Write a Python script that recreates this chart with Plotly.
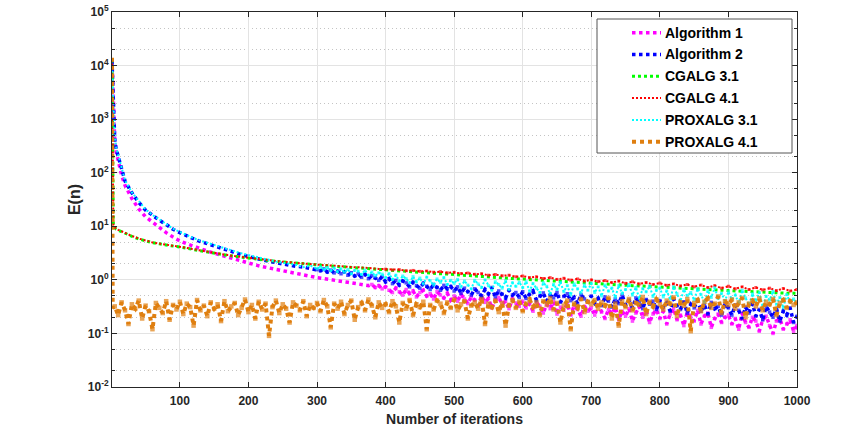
import plotly.graph_objects as go

# iteration numbers: dense at the start, every 10 up to 290, then every 5 for the noisy tails
x_iter = [1, 2, 3, 4, 5, 7, 10, 15, 20, 30, 40, 50, 60, 70, 80, 90] + list(range(100, 1001, 10))
x_head = [1, 2, 3, 4, 5, 7, 10, 15, 20, 30, 40, 50, 60, 70, 80, 90] + list(range(100, 300, 10))
x_dense = x_head + list(range(300, 1001, 5))
x_prox41 = [1, 2] + list(range(5, 1001, 5))

alg1 = [13000, 4500, 1500, 700, 380, 250, 160, 90, 58, 33, 21, 15, 12, 9.5, 7.6, 6.3,
        5.3, 4.7, 4.2, 3.8, 3.45, 3.15, 2.88, 2.63, 2.42, 2.22,
        2.05, 1.9, 1.77, 1.66, 1.56, 1.47, 1.38, 1.30, 1.23, 1.17,
        1.10, 1.08, 1.06, 1.04, 1.02, 0.99, 0.97, 0.95, 0.93, 0.90, 0.88, 0.86, 0.84, 0.82, 0.80, 0.78, 0.82, 0.72, 0.78, 0.68,
        0.74, 0.64, 0.58, 0.70, 0.60, 0.52, 0.66, 0.56, 0.62, 0.48, 0.58, 0.64, 0.50, 0.55, 0.44, 0.60, 0.52, 0.46, 0.56, 0.42,
        0.50, 0.40, 0.54, 0.44, 0.36, 0.48, 0.42, 0.33, 0.50, 0.38, 0.45, 0.30, 0.42, 0.47, 0.35, 0.40, 0.29, 0.44, 0.37, 0.32,
        0.40, 0.30, 0.36, 0.26, 0.38, 0.32, 0.24, 0.35, 0.29, 0.39, 0.23, 0.31, 0.27, 0.36, 0.22, 0.33, 0.28, 0.21, 0.32, 0.26,
        0.30, 0.22, 0.34, 0.25, 0.19, 0.28, 0.23, 0.31, 0.18, 0.26, 0.21, 0.29, 0.17, 0.24, 0.32, 0.20, 0.27, 0.16, 0.23, 0.28,
        0.19, 0.26, 0.15, 0.23, 0.29, 0.18, 0.22, 0.14, 0.25, 0.20, 0.17, 0.27, 0.15, 0.21, 0.24, 0.13, 0.19, 0.23, 0.16, 0.20,
        0.22, 0.15, 0.19, 0.12, 0.24, 0.16, 0.13, 0.20, 0.17, 0.11, 0.18, 0.21, 0.14, 0.10, 0.17, 0.19, 0.12, 0.15, 0.18, 0.11,
        0.14]

alg2 = [12000, 4000, 1500, 700, 420, 280, 200, 110, 70, 42, 28, 20, 16, 13, 10.8, 8.8,
        7.6, 6.6, 5.85, 5.2, 4.7, 4.25, 3.85, 3.5, 3.2, 2.95,
        2.72, 2.52, 2.36, 2.22, 2.1, 1.98, 1.9, 1.78, 1.74, 1.62,
        1.55, 1.48, 1.60, 1.40, 1.52, 1.35, 1.45, 1.30, 1.42, 1.22, 1.36, 1.18, 1.30, 1.12, 1.26, 1.05, 1.20, 1.08, 0.98, 1.15,
        0.92, 1.05, 0.85, 0.98, 0.80, 0.95, 0.88, 0.74, 0.90, 0.78, 0.70, 0.86, 0.76, 0.66, 0.82, 0.72, 0.64, 0.79, 0.68, 0.75,
        0.62, 0.74, 0.56, 0.70, 0.60, 0.52, 0.68, 0.58, 0.50, 0.66, 0.55, 0.72, 0.48, 0.62, 0.54, 0.46, 0.64, 0.52, 0.58, 0.47,
        0.60, 0.45, 0.54, 0.62, 0.42, 0.50, 0.57, 0.40, 0.52, 0.46, 0.58, 0.38, 0.49, 0.55, 0.41, 0.47, 0.36, 0.53, 0.44, 0.39,
        0.50, 0.37, 0.45, 0.33, 0.48, 0.40, 0.31, 0.44, 0.36, 0.52, 0.34, 0.42, 0.30, 0.46, 0.38, 0.29, 0.43, 0.35, 0.40, 0.28,
        0.41, 0.31, 0.37, 0.26, 0.44, 0.33, 0.28, 0.39, 0.24, 0.35, 0.30, 0.42, 0.26, 0.34, 0.23, 0.38, 0.29, 0.32, 0.22, 0.36,
        0.30, 0.22, 0.34, 0.27, 0.19, 0.31, 0.24, 0.36, 0.21, 0.28, 0.18, 0.32, 0.25, 0.20, 0.29, 0.17, 0.26, 0.22, 0.30, 0.16,
        0.21]

cg31 = [13000, 11, 10.2, 9.7, 9.3, 8.9, 8.5, 7.9, 7.4, 6.5, 5.8, 5.3, 4.95, 4.7, 4.5, 4.32,
        4.15, 3.9, 3.68, 3.48, 3.3, 3.14, 3.0, 2.87, 2.75, 2.64,
        2.54, 2.45, 2.37, 2.29, 2.22, 2.16, 2.10, 2.04, 1.99, 1.94,
        1.90, 1.86, 1.82, 1.78, 1.74, 1.71, 1.68, 1.65, 1.62, 1.59,
        1.55, 1.52, 1.48, 1.45, 1.42, 1.39, 1.36, 1.33, 1.30, 1.28,
        1.25, 1.23, 1.20, 1.18, 1.15, 1.13, 1.11, 1.09, 1.07, 1.05,
        1.03, 1.01, 0.99, 0.97, 0.96, 0.94, 0.92, 0.91, 0.89, 0.88,
        0.86, 0.85, 0.83, 0.82, 0.81, 0.79, 0.78, 0.77, 0.76, 0.74,
        0.73, 0.72, 0.71, 0.70, 0.69, 0.68, 0.67, 0.66, 0.65, 0.64,
        0.63, 0.62, 0.62, 0.61, 0.60, 0.59, 0.58, 0.58, 0.57, 0.56,
        0.56]

cg41 = [13000, 11.5, 10.5, 9.9, 9.5, 9.0, 8.6, 8.0, 7.5, 6.6, 5.9, 5.4, 5.0, 4.75, 4.55, 4.38,
        4.2, 3.95, 3.72, 3.52, 3.34, 3.18, 3.03, 2.9, 2.78, 2.67,
        2.57, 2.48, 2.40, 2.32, 2.25, 2.18, 2.12, 2.06, 2.01, 1.96,
        1.92, 1.88, 1.86, 1.80, 1.78, 1.73, 1.72, 1.66, 1.65, 1.60,
        1.58, 1.53, 1.55, 1.48, 1.50, 1.44, 1.46, 1.39, 1.42, 1.35,
        1.38, 1.31, 1.34, 1.27, 1.30, 1.22, 1.26, 1.19, 1.22, 1.14,
        1.18, 1.10, 1.14, 1.06, 1.10, 1.02, 1.07, 0.99, 1.04, 0.95,
        1.00, 0.93, 0.97, 0.89, 0.95, 0.86, 0.92, 0.84, 0.89, 0.82,
        0.87, 0.79, 0.84, 0.77, 0.82, 0.74, 0.80, 0.72, 0.78, 0.70,
        0.76, 0.68, 0.74, 0.66, 0.72, 0.65, 0.70, 0.63, 0.69, 0.62,
        0.66]

prox31 = [9500, 5000, 2000, 900, 480, 300, 210, 115, 72, 43, 29, 20.5, 16.3, 13.2, 11, 9.0,
          7.8, 6.8, 6.0, 5.4, 4.9, 4.45, 4.05, 3.7, 3.4, 3.12,
          2.9, 2.68, 2.5, 2.35, 2.2, 2.08, 1.98, 1.9, 1.72, 1.85,
          1.62, 1.75, 1.55, 1.70, 1.48, 1.66, 1.42, 1.60, 1.38, 1.56, 1.30, 1.50, 1.45, 1.26, 1.52, 1.22, 1.40, 1.18, 1.35, 1.28,
          1.10, 1.30, 1.02, 1.22, 0.95, 1.18, 1.05, 0.88, 1.15, 0.92, 1.08, 0.84, 1.12, 0.96, 0.80, 1.04, 0.90, 1.10, 0.82, 0.98,
          0.86, 1.02, 0.74, 0.95, 0.80, 0.68, 0.98, 0.84, 0.72, 1.00, 0.78, 0.64, 0.92, 0.82, 0.70, 0.96, 0.66, 0.88, 0.76, 0.90,
          0.72, 0.92, 0.62, 0.85, 0.70, 0.58, 0.88, 0.76, 0.55, 0.82, 0.66, 0.90, 0.60, 0.78, 0.52, 0.84, 0.68, 0.57, 0.80, 0.64,
          0.86, 0.58, 0.74, 0.50, 0.80, 0.62, 0.70, 0.47, 0.78, 0.56, 0.66, 0.82, 0.52, 0.72, 0.45, 0.68, 0.60, 0.76, 0.49, 0.64,
          0.70, 0.48, 0.62, 0.44, 0.74, 0.55, 0.40, 0.66, 0.50, 0.58, 0.42, 0.68, 0.53, 0.38, 0.63, 0.47, 0.71, 0.45, 0.56, 0.41,
          0.60, 0.43, 0.52, 0.37, 0.64, 0.46, 0.34, 0.55, 0.40, 0.58, 0.32, 0.49, 0.42, 0.61, 0.35, 0.47, 0.30, 0.53, 0.38, 0.44,
          0.36]

prox41 = [14000, 0.30,
          0.32, 0.22, 0.38, 0.27, 0.15, 0.35, 0.29, 0.41, 0.19, 0.33, 0.26, 0.12, 0.37, 0.30, 0.24, 0.40, 0.18, 0.34, 0.28, 0.39,
          0.23, 0.36, 0.31, 0.14, 0.42, 0.27, 0.33, 0.21, 0.38, 0.29, 0.35, 0.17, 0.40, 0.26, 0.32, 0.37, 0.22, 0.30, 0.43, 0.25,
          0.34, 0.19, 0.39, 0.28, 0.36, 0.09, 0.31, 0.41, 0.24, 0.35, 0.29, 0.16, 0.38, 0.33, 0.27, 0.40, 0.21, 0.34, 0.30, 0.37,
          0.26, 0.42, 0.32, 0.13, 0.36, 0.29, 0.39, 0.23, 0.34, 0.41, 0.18, 0.31, 0.37, 0.27, 0.43, 0.33, 0.20, 0.38, 0.30, 0.35,
          0.25, 0.40, 0.32, 0.16, 0.37, 0.29, 0.42, 0.22, 0.35, 0.31, 0.39, 0.12, 0.34, 0.28, 0.41, 0.36, 0.24, 0.38, 0.30, 0.43,
          0.27, 0.35, 0.40, 0.19, 0.33, 0.38, 0.29, 0.44, 0.15, 0.36, 0.31, 0.41, 0.25, 0.37, 0.14, 0.34, 0.42, 0.30, 0.39, 0.26,
          0.36, 0.43, 0.31, 0.38, 0.22, 0.40, 0.34, 0.45, 0.28, 0.37, 0.16, 0.33, 0.41, 0.12, 0.36, 0.30, 0.44, 0.25, 0.39, 0.35,
          0.42, 0.29, 0.38, 0.33, 0.46, 0.19, 0.36, 0.14, 0.40, 0.31, 0.44, 0.27, 0.37, 0.34, 0.48, 0.23, 0.39, 0.32, 0.43, 0.35,
          0.28, 0.41, 0.36, 0.47, 0.21, 0.38, 0.33, 0.44, 0.11, 0.37, 0.42, 0.26, 0.39, 0.45, 0.30, 0.36, 0.49, 0.24, 0.40, 0.34,
          0.43, 0.29, 0.38, 0.46, 0.20, 0.36, 0.41, 0.32, 0.45, 0.27, 0.39, 0.35, 0.44, 0.22, 0.37, 0.42, 0.30, 0.40, 0.34, 0.38]

y_exps = [-2, -1, 0, 1, 2, 3, 4, 5]
y_ticktext = ["10<sup>%d</sup>" % e for e in y_exps]

# name, x, y, colour, line width, dash, iteration where the noisy part starts, square size there
series = [
    ("Algorithm 1", x_dense, alg1, "#FF00FF", 3.5, "dot", 380, 3.5),
    ("Algorithm 2", x_dense, alg2, "#0000FF", 3.5, "dot", 300, 3.5),
    ("CGALG 3.1", x_iter, cg31, "#00FF00", 3, "dot", 2000, 0),
    ("CGALG 4.1", x_iter, cg41, "#FF0000", 2, "2px,2px", 400, 3),
    ("PROXALG 3.1", x_dense, prox31, "#00FFFF", 2, "2px,2px", 300, 3),
    ("PROXALG 4.1", x_prox41, prox41, "#DF7F10", 4, "dot", 5, 4.5),
]

fig = go.Figure()
for name, xs, ys, color, w, dash, noisy_from, sq in series:
    sizes = [sq if x >= noisy_from else 0 for x in xs]
    fig.add_trace(go.Scatter(x=xs, y=ys, mode="lines+markers", name=name, showlegend=False,
                             line=dict(color=color, width=w, dash=dash),
                             marker=dict(symbol="square", size=sizes, color=color, line=dict(width=0))))

# MATLAB-like legend box, drawn by hand (pixel layout converted to paper coords)
L, R, T, B = 112, 797, 12, 387
px = lambda v: (v - L) / (R - L)
py = lambda v: (B - v) / (B - T)
fig.add_shape(type="rect", xref="paper", yref="paper", layer="above",
              x0=px(597), x1=px(792), y0=py(153), y1=py(19),
              fillcolor="white", line=dict(color="#555555", width=1))
for i, (name, xs, ys, color, w, dash, noisy_from, sq) in enumerate(series):
    yy = py(32.7 + 21.8 * i)
    fig.add_shape(type="line", xref="paper", yref="paper", layer="above",
                  x0=px(632), x1=px(661), y0=yy, y1=yy,
                  line=dict(color=color, width=w, dash=dash))
    fig.add_annotation(text=name, xref="paper", yref="paper", x=px(663), y=yy,
                       xanchor="left", yanchor="middle", showarrow=False,
                       font=dict(family="Liberation Sans", size=14, color="black", weight="bold"))

axis_font = dict(family="Liberation Sans", size=12, color="#262626", weight="bold")

fig.update_xaxes(range=[1, 1000], tickvals=list(range(100, 1001, 100)),
                 showline=True, linecolor="#262626", linewidth=1, mirror="ticks",
                 ticks="inside", ticklen=5, tickcolor="#262626",
                 showgrid=True, gridcolor="#e3e3e3", gridwidth=1, zeroline=False,
                 tickfont=axis_font, automargin=False, ticklabelstandoff=3,
                 title=dict(text="Number of iterations",
                            font=dict(family="Liberation Sans", size=14, color="#262626", weight="bold"),
                            standoff=6))

fig.update_yaxes(type="log", range=[-2, 5],
                 tickvals=[10.0 ** e for e in y_exps], ticktext=y_ticktext,
                 showline=True, linecolor="#262626", linewidth=1, mirror="ticks",
                 ticks="inside", ticklen=5, tickcolor="#262626",
                 showgrid=True, gridcolor="#e3e3e3", gridwidth=1, zeroline=False,
                 minor=dict(ticks="inside", ticklen=3, tickcolor="#262626",
                            showgrid=True, gridcolor="#c4c4c4", griddash="1px,3px", gridwidth=1),
                 tickfont=axis_font, automargin=False, ticklabeloverflow="allow",
                 title=dict(text="E(n)",
                            font=dict(family="Liberation Sans", size=16, color="#262626", weight="bold"),
                            standoff=3))

fig.update_layout(
    width=864, height=437,
    margin=dict(l=L, r=864 - R, t=T, b=437 - B),
    plot_bgcolor="white", paper_bgcolor="white",
)

# drop the browser's default 8px body margin so the figure sits at the window corner
fig.write_html("out.html", config={"displayModeBar": False},
               post_script="document.body.style.margin='0px';")
